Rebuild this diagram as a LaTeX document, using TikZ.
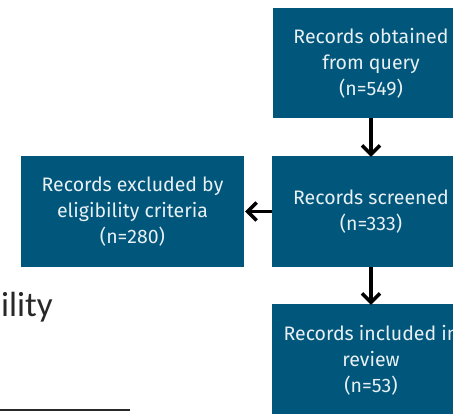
\documentclass[tikz,border=0pt]{standalone}
\usepackage{fontspec}
\setmainfont{Fira Sans}
\newfontfamily\bodyfont{Carlito}
\usetikzlibrary{arrows.meta}
\definecolor{boxblue}{RGB}{1,86,123}
\definecolor{boxtext}{RGB}{232,240,244}
\definecolor{inktext}{RGB}{40,40,40}
\tikzset{
  flowbox/.style={fill=boxblue, text=boxtext, align=center, inner sep=0pt,
    font=\fontsize{19.5}{26}\selectfont},
  flowarrow/.style={line width=3.5pt, -{Straight Barb[length=9pt,width=18pt,line width=3.5pt]}},
}
\begin{document}
\begin{tikzpicture}[x=1pt,y=-1pt]
  \useasboundingbox (0,0) rectangle (453,413);
  \clip (0,0) rectangle (453,413);
  % boxes of the flow
  \node[flowbox, minimum width=196pt, minimum height=110pt] (query) at (371,63)
    {Records obtained\\from query\\(n=549)};
  \node[flowbox, minimum width=198pt, minimum height=111pt] (screen) at (371,211.5)
    {Records screened\\(n=333)};
  \node[flowbox, minimum width=223pt, minimum height=111pt] (excl) at (132.5,211.5)
    {Records excluded by\\eligibility criteria\\(n=280)};
  \node[flowbox, minimum width=198pt, minimum height=112pt] (incl) at (371,360)
    {Records included in\\review\\(n=53)};
  % connectors
  \draw[flowarrow] (query.south) -- ([yshift=-1pt]screen.north);
  \draw[flowarrow] (screen.south) -- ([yshift=-1pt]incl.north);
  \draw[flowarrow] (screen.west) -- ([xshift=1pt]excl.east);
  % surrounding page text
  \node[anchor=base east, inner sep=0pt, text=inktext,
    font=\bodyfont\fontsize{35}{42}\selectfont] (word) at (53,316) {ility};
  \coordinate (ruleA) at (0,410);
  \coordinate (ruleB) at (130,410);
  \draw[line width=2pt, inktext] (ruleA) -- (ruleB);
\end{tikzpicture}
\end{document}
